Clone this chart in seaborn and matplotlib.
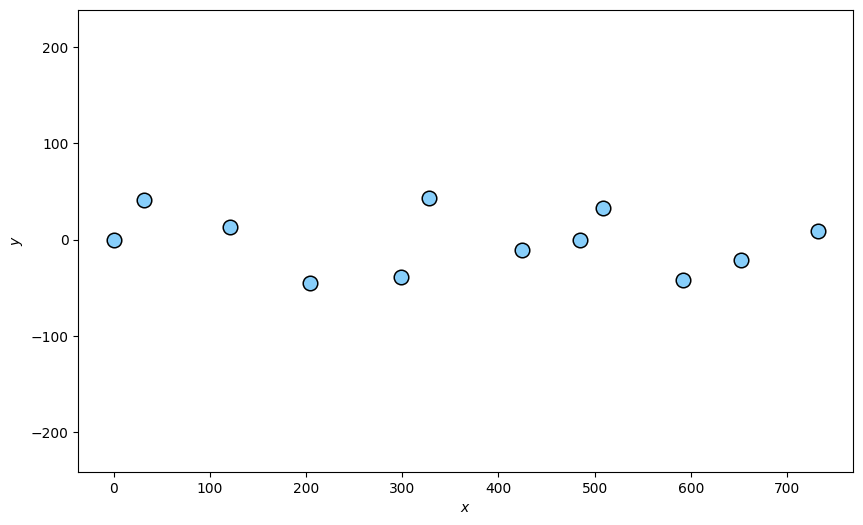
import matplotlib
matplotlib.use("Agg")
import matplotlib.pyplot as plt
import seaborn as sns
import pandas as pd

# values
x_vals = [0, 31.2, 121.5, 204.6, 298.8, 327.9, 424.7, 484.7, 508.9, 592.0, 652.6, 732.2]
y_vals = [0, 41.2, 13.2, -44.7, -38.4, 42.6, -10.4, -1.0, 32.9, -41.5, -20.8, 9.3]

df = pd.DataFrame({"x": x_vals, "y": y_vals})

fig, ax = plt.subplots(figsize=(10, 6), dpi=100)
sns.scatterplot(data=df, x="x", y="y", ax=ax, s=110,
                color="lightskyblue", edgecolor="black", linewidth=1.1, zorder=3)
ax.set_ylim(-241, 238.5)
ax.set_xlabel("$x$")
ax.set_ylabel("$y$")

plt.savefig("out.png", dpi=100, bbox_inches="tight")
plt.close()
